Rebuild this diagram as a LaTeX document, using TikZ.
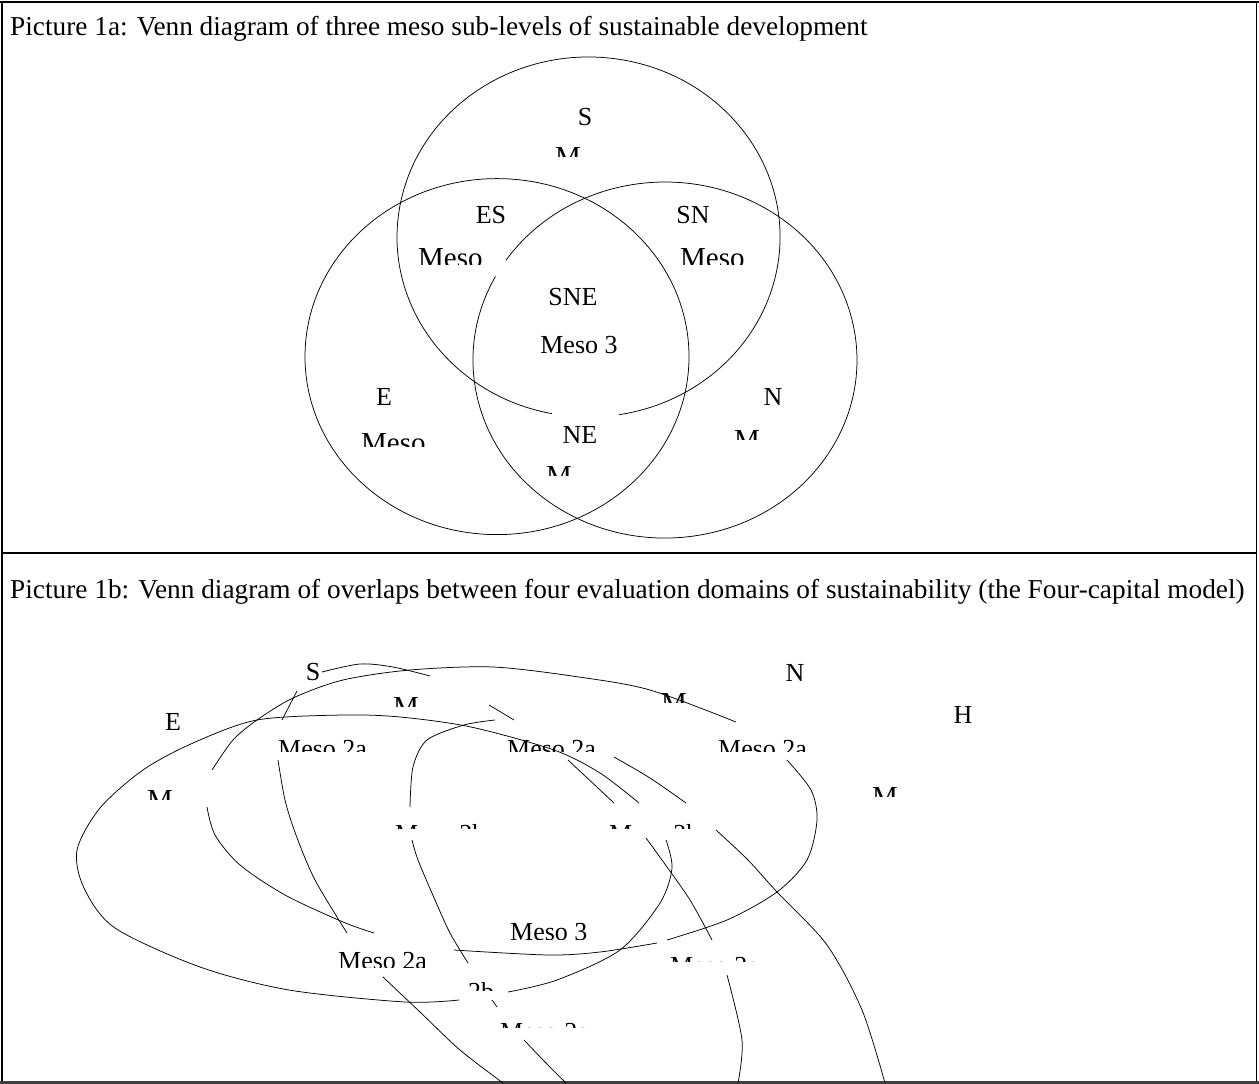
\documentclass[tikz,border=0pt]{standalone}
\usepackage{fontspec}
\setmainfont{Liberation Serif}
\begin{document}
\begin{tikzpicture}[x=1pt,y=-1pt,line join=bevel,
  ring/.style={line width=0.75pt},
  lbl/.style={inner sep=0pt,font=\fontsize{26}{30}\selectfont},
  cut/.style={lbl,anchor=north west},
  bigcut/.style={cut,font=\fontsize{29}{33}\selectfont},
  caption/.style={inner sep=0pt,anchor=base west,font=\fontsize{27.3}{32}\selectfont}]
\useasboundingbox (0,0) rectangle (1259,1084);
%%
  % Frame
  \draw[line width=2.5pt] (0,2) -- (1259,2);
  \draw[line width=1.2pt] (2,2) -- (2,1082);
  \draw[line width=1.2pt] (1256.5,2) -- (1256.5,1082);
  \draw[line width=2.5pt] (2,553) -- (1257,553);
  \draw[line width=3pt,black!75] (0,1082.5) -- (1259,1082.5);
  \node[caption] (cap1a) at (10,35) {Picture 1a: Venn diagram of three meso sub-levels of sustainable development};
  \node[caption] (cap1b) at (10,598) {Picture 1b: Venn diagram of overlaps between four evaluation domains of sustainability (the Four-capital model)};
%%
  % Circle: S
  \draw[ring] (552,413.7) arc[start angle=101,end angle=440.85,x radius=191.5,y radius=180];
  % Circle: E
  \draw[ring] (497,356.6) ellipse[x radius=192,y radius=178];
  % Circle: N
  \draw[ring] (505.8,260.5) arc[start angle=214,end angle=568,x radius=192,y radius=178];
  % Label: S
  \node[lbl] (s) at (585,117) {S};
\begin{scope}
  \clip (553,140) rectangle (580.5,156);
  \node[bigcut] (smeso) at (555,147) {Meso};
\end{scope}
  % Label: ES
  \node[lbl] (es) at (491,215) {ES};
\begin{scope}
  \clip (405,238) rectangle (503,264);
  \node[bigcut] (esmeso) at (418,248) {Meso};
\end{scope}
  % Label: SN
  \node[lbl] (sn) at (693,215) {SN};
\begin{scope}
  \clip (670,238) rectangle (770,264);
  \node[bigcut] (snmeso) at (680,248) {Meso};
\end{scope}
  % Label: SNE
  \node[lbl] (sne) at (573,297) {SNE};
  \node[lbl] (snemeso) at (579,345) {Meso 3};
  % Label: E
  \node[lbl] (e) at (384,397) {E};
\begin{scope}
  \clip (350,425) rectangle (445,446);
  \node[bigcut] (emeso) at (361,433) {Meso};
\end{scope}
  % Label: NE
  \node[lbl] (ne) at (580,435) {NE};
\begin{scope}
  \clip (544,460) rectangle (571.5,475);
  \node[bigcut] (nemeso) at (546,466) {Meso};
\end{scope}
  % Label: N
  \node[lbl] (n) at (773,397) {N};
\begin{scope}
  \clip (732,425) rectangle (759.5,439);
  \node[bigcut] (nmeso) at (734,430) {Meso};
\end{scope}
%%
  % Ellipse: E (four-capital)
  \draw[ring] plot[smooth] coordinates {(639,803) (600,773) (554,750) (471,727) (400,717) (343,715) (257,720) (193,743) (143,770) (100,808) (77,850) (84,888) (115,928) (200,967) (289,990) (405,1002) (459,1000)};
  \draw[ring] plot[smooth] coordinates {(508,992) (557,980) (620,950) (660,903) (672,868) (666,840)};
  % Ellipse: S (four-capital)
  \draw[ring] plot[smooth] coordinates {(212,770) (233,740) (257,720) (293,698) (343,680) (410,670) (493,667) (579,677) (650,690) (736,722)};
  \draw[ring] plot[smooth] coordinates {(787,760) (811,790) (817,820) (807,860) (777,892) (727,920) (667,940)};
  \draw[ring] plot[smooth] coordinates {(657,943) (600,952) (548,955) (454,950)};
  \draw[ring] plot[smooth] coordinates {(374,933) (343,922) (285,895) (240,865) (215,835) (207,807)};
  % Pieces: N and H
  \draw[ring] plot[smooth] coordinates {(322,672) (360,664) (393,667) (430,676)};
  \draw[ring] (297,691) -- (282,720);
  \draw[ring] plot[smooth] coordinates {(278,760) (285,800) (296,835) (315,880) (347,933)};
  \draw[ring] plot[smooth] coordinates {(383,977) (420,1012) (460,1050) (503,1083)};
  \draw[ring] (489,705) -- (514,720);
  \draw[ring] plot[smooth] coordinates {(495,720) (464,725) (427,740) (413,767) (410,807)};
  \draw[ring] plot[smooth] coordinates {(412,840) (418,860) (435,900) (450,933) (468,963)};
  \draw[ring] (492,1000) -- (497,1007);
  \draw[ring] plot[smooth] coordinates {(524,1040) (545,1062) (566,1083)};
  \draw[ring] (568,760) -- (614,803);
  \draw[ring] plot[smooth] coordinates {(614,757) (650,778) (686,803)};
  \draw[ring] plot[smooth] coordinates {(716,830) (748,860) (777,892) (827,945) (862,1010) (885,1083)};
  \draw[ring] plot[smooth] coordinates {(646,838) (662,860) (690,900) (712,940)};
  \draw[ring] plot[smooth] coordinates {(727,975) (742,1040) (738,1083)};
  % Labels: domains
  \node[lbl] (s4) at (313,672) {S};
  \node[lbl] (e4) at (173,722) {E};
  \node[lbl] (n4) at (795,673) {N};
  \node[lbl] (h4) at (963,715) {H};
  % Labels: Meso 1
\begin{scope}
  \clip (391,690) rectangle (418.5,706);
  \node[bigcut] (smeso4) at (393,697) {Meso};
\end{scope}
\begin{scope}
  \clip (659,686) rectangle (686.5,702);
  \node[bigcut] (nmeso4) at (661,693) {Meso};
\end{scope}
\begin{scope}
  \clip (145,783) rectangle (172.5,799);
  \node[bigcut] (emeso4) at (147,790) {Meso};
\end{scope}
\begin{scope}
  \clip (870,780) rectangle (897.5,796);
  \node[bigcut] (hmeso4) at (872,787) {Meso};
\end{scope}
  % Labels: Meso 2a
\begin{scope}
  \clip (273,733) rectangle (375,751);
  \node[cut] (esmeso4) at (278,740) {Meso 2a};
\end{scope}
\begin{scope}
  \clip (502,733) rectangle (604,751);
  \node[cut] (snmeso4) at (507,740) {Meso 2a};
\end{scope}
\begin{scope}
  \clip (713,733) rectangle (815,751);
  \node[cut] (nhmeso4) at (718,740) {Meso 2a};
\end{scope}
  % Labels: Meso 2b
\begin{scope}
  \clip (390,818) rectangle (485,828.5);
  \node[cut] (enmeso4) at (395,824) {Meso 2b};
\end{scope}
\begin{scope}
  \clip (604,818) rectangle (700,828.5);
  \node[cut] (shmeso4) at (609,824) {Meso 2b};
\end{scope}
  % Labels: lower part
\begin{scope}
  \clip (505,916) rectangle (595,939);
  \node[cut] (meso3) at (510,923) {Meso 3};
\end{scope}
\begin{scope}
  \clip (333,945) rectangle (435,967);
  \node[cut] (hemeso4) at (338,952) {Meso 2a};
\end{scope}
\begin{scope}
  \clip (463,975) rectangle (500,990);
  \node[cut] (low2b) at (468,982) {2b};
\end{scope}
\begin{scope}
  \clip (665,951) rectangle (760,961.5);
  \node[cut] (rmeso4) at (670,957) {Meso 2a};
\end{scope}
\begin{scope}
  \clip (495,1017) rectangle (590,1027.5);
  \node[cut] (bmeso4) at (500,1023) {Meso 2a};
\end{scope}
%
\end{tikzpicture}
\end{document}
